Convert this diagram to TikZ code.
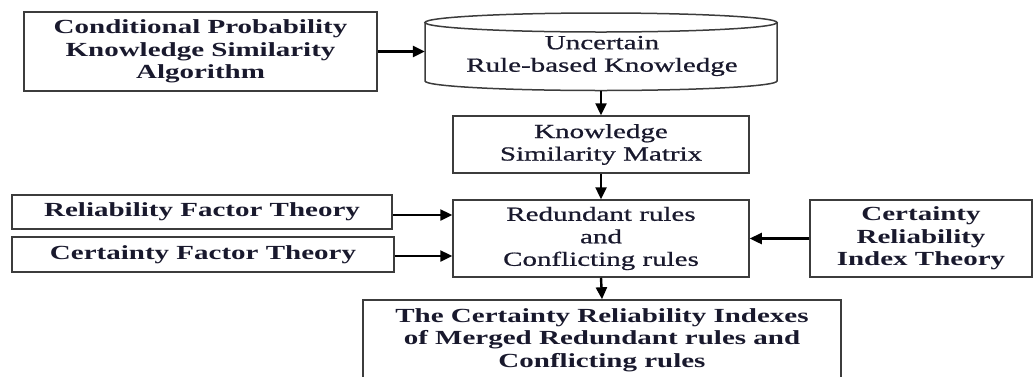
\documentclass[tikz,border=0pt]{standalone}
\usepackage{fontspec}
\setmainfont{Liberation Serif}[FakeStretch=1.45]
\newfontfamily\medfont{Liberation Serif}[FakeStretch=1.45,FakeBold=0.8]
\usetikzlibrary{arrows.meta}
\definecolor{txt}{RGB}{25,25,45}
\definecolor{edge}{RGB}{60,60,60}
\tikzset{
  lbl/.style={text=txt, align=center, inner sep=0pt, font=\fontsize{20}{22.5}\selectfont\medfont},
  boldlbl/.style={lbl, font=\fontsize{20}{22.5}\selectfont\rmfamily\bfseries},
  box/.style={lbl, draw=edge, line width=1.5pt, rectangle},
  bbox/.style={box, boldlbl},
  arr/.style={line width=2.4pt, -{Triangle[length=12pt,width=11pt]}},
  cylline/.style={draw=edge, line width=1.5pt},
}
\begin{document}
\begin{tikzpicture}[x=1pt,y=-1pt]
\path[use as bounding box] (0,0) rectangle (1035,376);
\clip (0,0) rectangle (1035,376);

\node[bbox, minimum width=353pt, minimum height=79pt] (alg) at (200.5,51.5)
  {Conditional Probability\\Knowledge Similarity\\Algorithm};

% cylinder
\node[inner sep=0pt, minimum width=352pt, minimum height=78pt] (kb) at (601,51.5) {};
\draw[cylline] (601,22.5) ellipse [x radius=176pt, y radius=9.5pt];
\draw[cylline] (425,22.5) -- (425,81)
  arc[start angle=180, end angle=360, x radius=176pt, y radius=9.5pt] -- (777,22.5);
\node[lbl] (kbt) at (602,56) {Uncertain\\Rule-based Knowledge};

\node[box, minimum width=296pt, minimum height=57pt] (ksm) at (601,144.5)
  {Knowledge\\Similarity Matrix};

\node[bbox, minimum width=380pt, minimum height=34pt] (rel) at (202,212)
  {Reliability Factor Theory};
\node[bbox, minimum width=382pt, minimum height=35pt] (cf) at (203,254.5)
  {Certainty Factor Theory};

\node[box, minimum width=296pt, minimum height=77pt] (red) at (601,238.5)
  {Redundant rules\\and\\Conflicting rules};

\node[bbox, minimum width=222pt, minimum height=77pt] (crit) at (921,238.5)
  {Certainty\\Reliability\\Index Theory};

\node[bbox, minimum width=478pt, minimum height=80pt] (res) at (602,340)
  {The Certainty Reliability Indexes\\of Merged Redundant rules and\\Conflicting rules};

\draw[arr] (alg.east) -- (alg.east -| kb.west);
\draw[arr] (kb.south) -- (ksm.north);
\draw[arr] (ksm.south) -- (red.north);
\draw[arr] ([yshift=-3pt]rel.east) -- ([yshift=-3pt]rel.east -| red.west);
\draw[arr] ([yshift=-1.5pt]cf.east) -- ([yshift=-1.5pt]cf.east -| red.west);
\draw[arr] (crit.west) -- (crit.west -| red.east);
\draw[arr] (red.south) -- (res.north);
\end{tikzpicture}
\end{document}
